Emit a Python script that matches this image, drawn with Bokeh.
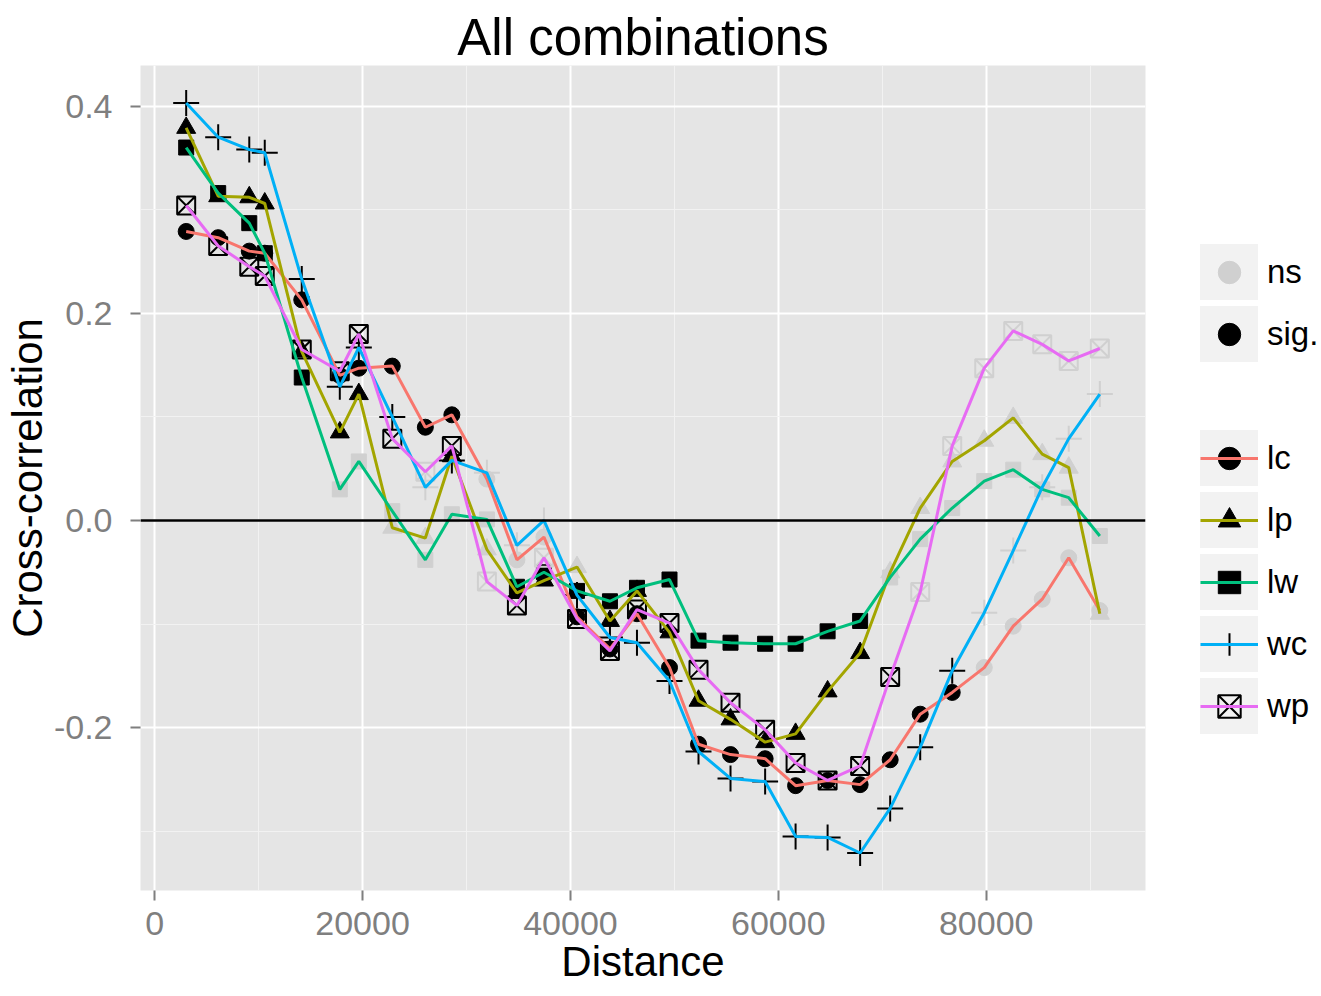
import math
from bokeh.plotting import figure
from bokeh.models import Range1d, FixedTicker, PrintfTickFormatter, Span, Legend, LegendItem
from bokeh.embed import file_html
from bokeh.resources import INLINE

# ---------------- data ----------------
distance = [3030, 6110, 9100, 10590, 14150, 17810, 19640, 22860, 26040, 28590,
            31960, 34850, 37450, 40630, 43800, 46400, 49530, 52320, 55400, 58730,
            61660, 64740, 67870, 70760, 73650, 76730, 79810, 82600, 85390, 87940, 90930]

lc = [0.279, 0.273, 0.260, 0.258, 0.213, 0.140, 0.147, 0.149, 0.090, 0.102,
      0.040, -0.038, -0.016, -0.093, -0.124, -0.090, -0.142, -0.216, -0.226, -0.230,
      -0.256, -0.251, -0.255, -0.231, -0.187, -0.166, -0.142, -0.102, -0.076, -0.036, -0.087]
lc_sig = [1, 1, 1, 1, 1, 1, 1, 1, 1, 1, 0, 0, 0, 1, 1, 1, 1, 1, 1, 1,
          1, 1, 1, 1, 1, 1, 0, 0, 0, 0, 0]

lp = [0.379, 0.313, 0.312, 0.306, 0.163, 0.085, 0.122, -0.007, -0.017, 0.062,
      -0.028, -0.070, -0.058, -0.045, -0.097, -0.068, -0.108, -0.174, -0.192, -0.214,
      -0.206, -0.165, -0.128, -0.050, 0.012, 0.057, 0.077, 0.099, 0.064, 0.051, -0.090]
lp_sig = [1, 1, 1, 1, 1, 1, 1, 0, 0, 1, 0, 1, 1, 0, 1, 1, 1, 1, 1, 1,
          1, 1, 1, 0, 0, 0, 0, 0, 0, 0, 0]

lw = [0.360, 0.316, 0.287, 0.258, 0.138, 0.030, 0.057, 0.009, -0.038, 0.006,
      0.001, -0.064, -0.050, -0.068, -0.078, -0.065, -0.057, -0.116, -0.118, -0.119,
      -0.119, -0.107, -0.097, -0.055, -0.018, 0.012, 0.038, 0.049, 0.030, 0.022, -0.015]
lw_sig = [1, 1, 1, 1, 1, 0, 0, 0, 0, 0, 0, 1, 1, 1, 1, 1, 1, 1, 1, 1,
          1, 1, 1, 0, 0, 0, 0, 0, 0, 0, 0]

wc = [0.403, 0.370, 0.358, 0.355, 0.233, 0.129, 0.167, 0.100, 0.032, 0.058,
      0.046, -0.024, 0.000, -0.072, -0.113, -0.118, -0.155, -0.223, -0.249, -0.252,
      -0.305, -0.306, -0.321, -0.278, -0.219, -0.145, -0.089, -0.029, 0.032, 0.079, 0.122]
wc_sig = [1, 1, 1, 1, 1, 1, 1, 1, 0, 1, 0, 0, 0, 1, 1, 1, 1, 1, 1, 1,
          1, 1, 1, 1, 1, 1, 0, 0, 0, 0, 0]

wp = [0.304, 0.265, 0.245, 0.236, 0.165, 0.144, 0.180, 0.079, 0.047, 0.072,
      -0.059, -0.082, -0.036, -0.095, -0.126, -0.086, -0.099, -0.144, -0.176, -0.202,
      -0.234, -0.251, -0.237, -0.151, -0.069, 0.072, 0.147, 0.183, 0.170, 0.154, 0.166]
wp_sig = [1, 1, 1, 1, 1, 1, 1, 1, 0, 1, 0, 1, 0, 1, 1, 1, 1, 1, 1, 1,
          1, 1, 1, 1, 0, 0, 0, 0, 0, 0, 0]

series_names = ["lc", "lp", "lw", "wc", "wp"]
series_values = [lc, lp, lw, wc, wp]
series_sig = [lc_sig, lp_sig, lw_sig, wc_sig, wp_sig]
series_colors = ["#F8766D", "#A3A500", "#00BF7D", "#00B0F6", "#E76BF3"]
sig_labels = ["ns", "sig."]
sig_colors = ["#d0d0d0", "#000000"]

x_ticks = [0, 20000, 40000, 60000, 80000]
x_tick_labels = ["0", "20000", "40000", "60000", "80000"]
x_minor = [10000, 30000, 50000, 70000, 90000]
y_ticks = [-0.2, 0.0, 0.2, 0.4]
y_tick_labels = ["-0.2", "0.0", "0.2", "0.4"]
y_minor = [-0.3, -0.1, 0.1, 0.3]

# ---------------- figure ----------------
FONT = "Liberation Sans"
all_y = [v for s in series_values for v in s]
xspan = max(distance) - min(distance)
yspan = max(all_y) - min(all_y)

p = figure(frame_width=1005, frame_height=825, output_backend="svg", toolbar_location=None,
           x_range=Range1d(min(distance) - 0.05 * xspan, max(distance) + 0.05 * xspan),
           y_range=Range1d(min(all_y) - 0.05 * yspan, max(all_y) + 0.05 * yspan),
           min_border_left=140, min_border_right=176, min_border_top=65, min_border_bottom=106,
           background_fill_color="#E5E5E5", border_fill_color="white",
           outline_line_color=None)

p.title.text = "All combinations"
p.title.align = "center"
p.title.text_font = FONT
p.title.text_font_size = "51px"
p.title.text_font_style = "normal"
p.title.text_color = "black"
p.title.standoff = 0

# axes
p.xaxis.ticker = FixedTicker(ticks=x_ticks, minor_ticks=x_minor)
p.yaxis.ticker = FixedTicker(ticks=y_ticks, minor_ticks=y_minor)
p.xaxis.formatter = PrintfTickFormatter(format="%d")
p.yaxis.formatter = PrintfTickFormatter(format="%.1f")
p.xaxis.major_label_overrides = dict(zip(x_ticks, x_tick_labels))
p.yaxis.major_label_overrides = dict(zip(y_ticks, y_tick_labels))
p.xaxis.axis_label = "Distance"
p.yaxis.axis_label = "Cross-correlation"
for ax in (p.xaxis, p.yaxis):
    ax.axis_line_color = None
    ax.major_tick_line_color = "#7F7F7F"
    ax.major_tick_line_width = 2
    ax.major_tick_in = 0
    ax.major_tick_out = 10
    ax.minor_tick_line_color = None
    ax.major_label_text_color = "#7F7F7F"
    ax.major_label_text_font = FONT
    ax.major_label_text_font_size = "34px"
    ax.axis_label_text_font = FONT
    ax.axis_label_text_font_size = "42px"
    ax.axis_label_text_font_style = "normal"
    ax.axis_label_text_color = "black"
p.xaxis.major_label_standoff = 11
p.xaxis.axis_label_standoff = 0
p.yaxis.major_label_standoff = 18
p.yaxis.axis_label_standoff = 0

# grid
for g in (p.xgrid, p.ygrid):
    g.grid_line_color = "white"
    g.grid_line_width = 2
    g.minor_grid_line_color = "#F2F2F2"
    g.minor_grid_line_width = 1

# ---------------- marks ----------------
marker_specs = {
    "lc": dict(marker="circle", size=16),
    "lp": dict(marker="triangle", size=19),
    "lw": dict(marker="square", size=15),
    "wc": dict(marker="cross", size=26, line_width=2),
    "wp": dict(marker="square_x", size=18, line_width=2),
}

sig_renderers = {}
for name, vals, sig in zip(series_names, series_values, series_sig):
    spec = dict(marker_specs[name])
    for flag, col in ((0, sig_colors[0]), (1, sig_colors[1])):
        xs = [d for d, s in zip(distance, sig) if s == flag]
        ys = [v for v, s in zip(vals, sig) if s == flag]
        if spec["marker"] in ("cross", "square_x"):
            r = p.scatter(xs, ys, line_color=col, fill_color=None, **spec)
        else:
            r = p.scatter(xs, ys, line_color=col, fill_color=col, **spec)
        if flag == 1:
            sig_renderers[name] = r

line_renderers = {}
for name, vals, col in zip(series_names, series_values, series_colors):
    line_renderers[name] = p.line(distance, vals, line_color=col, line_width=3)

p.add_layout(Span(location=0, dimension="width", line_color="black", line_width=2.5))

# ---------------- legend (right panel) ----------------
nan = float("nan")
key_bg = p.scatter([nan], [nan], marker="square", size=22, fill_color="#F2F2F2",
                   line_color="#F2F2F2", line_width=60, line_join="miter")
sig_keys = [p.scatter([nan], [nan], marker="circle", size=14, fill_color=c, line_color=c)
            for c in sig_colors]
blank = p.scatter([nan], [nan], marker="circle", size=1, fill_alpha=0, line_alpha=0)

items = [LegendItem(label=lab, renderers=[key_bg, k]) for lab, k in zip(sig_labels, sig_keys)]
items.append(LegendItem(label=" ", renderers=[blank]))
items += [LegendItem(label=n, renderers=[key_bg, sig_renderers[n], line_renderers[n]])
          for n in series_names]

leg = Legend(items=items, location=(55, 156))
leg.glyph_width = 58
leg.glyph_height = 56
leg.label_height = 56
leg.label_standoff = 9
leg.spacing = 6
leg.padding = 0
leg.margin = 0
leg.background_fill_alpha = 0
leg.border_line_alpha = 0
leg.label_text_font = FONT
leg.label_text_font_size = "33px"
leg.label_text_color = "black"
p.add_layout(leg, "right")

open("out.html", "w").write(file_html(p, INLINE))
